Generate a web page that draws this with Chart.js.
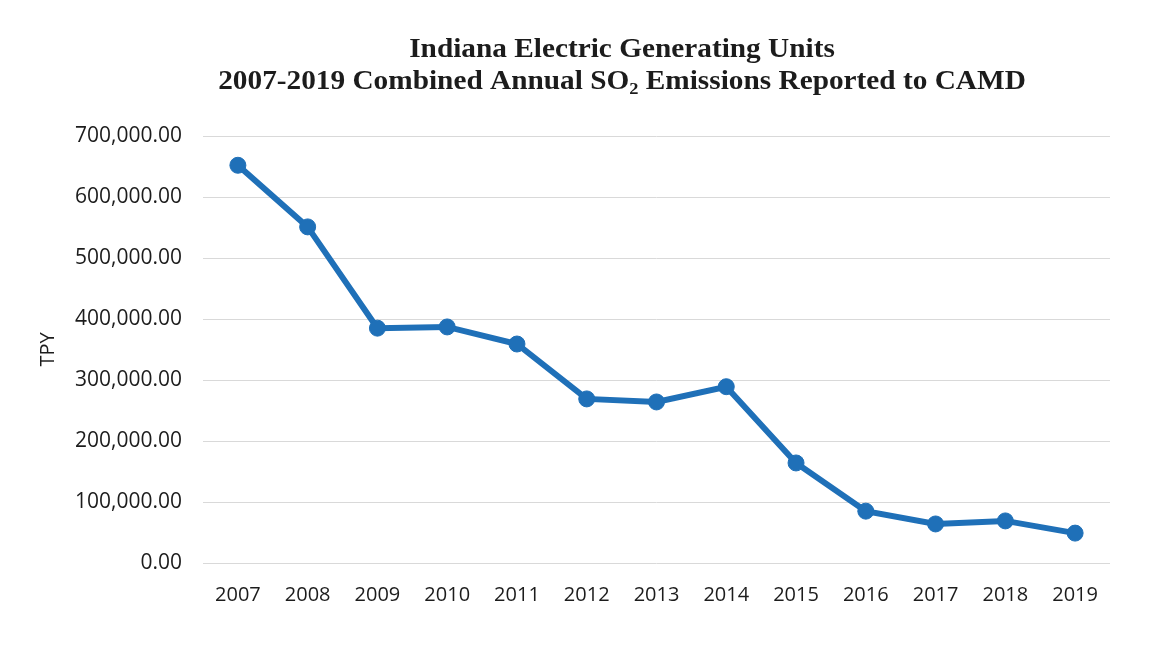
<!DOCTYPE html>
<html>
<head>
<meta charset="utf-8">
<script src="https://cdn.jsdelivr.net/npm/chart.js@4/dist/chart.umd.min.js"></script>
<style>
  body { margin: 0; background: #fff; }
  #chart { display: block; }
</style>
</head>
<body>
<canvas id="chart" width="1175" height="665"></canvas>
<script>
// Data
const years = ['2007', '2008', '2009', '2010', '2011', '2012', '2013', '2014', '2015', '2016', '2017', '2018', '2019'];
const so2Tpy = [652000, 551000, 385000, 387000, 359000, 269000, 264000, 289000, 164000, 85000, 64000, 69000, 49000];
const yMin = 0;
const yMax = 700000;
const yStep = 100000;

const titleLine1 = 'Indiana Electric Generating Units';
const titleLine2 = ['2007-2019 Combined Annual SO', '2', ' Emissions Reported to CAMD'];

const lineBlue = '#1f70b8';
const textColor = '#1c1c1c';

// Two line serif title with a subscript, drawn by hand
const titlePlugin = {
  id: 'twoLineTitle',
  afterDraw(chart) {
    const ctx = chart.ctx;
    const big = 'bold 27px "Liberation Serif", "DejaVu Serif", serif';
    const small = 'bold 17px "Liberation Serif", "DejaVu Serif", serif';
    ctx.save();
    ctx.fillStyle = textColor;
    ctx.textBaseline = 'alphabetic';
    ctx.translate(622, 0);
    ctx.scale(1.085, 1);

    ctx.font = big;
    ctx.textAlign = 'center';
    ctx.fillText(titleLine1, 0, 57);

    ctx.textAlign = 'left';
    const fonts = [big, small, big];
    const drops = [0, 5, 0];
    const widths = titleLine2.map((t, i) => {
      ctx.font = fonts[i];
      return ctx.measureText(t).width;
    });
    let x = -widths.reduce((a, b) => a + b, 0) / 2;
    titleLine2.forEach((t, i) => {
      ctx.font = fonts[i];
      ctx.fillText(t, x, 89 + drops[i]);
      x += widths[i];
    });
    ctx.restore();
  }
};

const ctx = document.getElementById('chart').getContext('2d');
new Chart(ctx, {
  type: 'line',
  data: {
    labels: years,
    datasets: [{
      label: 'SO2 (TPY)',
      data: so2Tpy,
      borderColor: lineBlue,
      backgroundColor: lineBlue,
      borderWidth: 6,
      pointRadius: 8,
      pointHoverRadius: 8,
      pointBorderWidth: 1,
      pointBackgroundColor: lineBlue,
      pointBorderColor: lineBlue,
      tension: 0,
      fill: false
    }]
  },
  options: {
    responsive: false,
    animation: false,
    layout: {
      padding: { top: 136, right: 65, bottom: 57, left: 0 }
    },
    plugins: {
      legend: { display: false },
      title: { display: false },
      tooltip: { enabled: false }
    },
    scales: {
      x: {
        offset: true,
        grid: { display: false, drawTicks: false },
        border: { display: false },
        ticks: {
          color: textColor,
          padding: 20,
          maxRotation: 0,
          font: { family: '"Open Sans", "Noto Sans", sans-serif', size: 20 }
        },
        afterFit(scale) { scale.height = 45; }
      },
      y: {
        min: yMin,
        max: yMax,
        grid: { color: '#d9d9d9', lineWidth: 1, drawTicks: false },
        border: { display: false },
        ticks: {
          stepSize: yStep,
          color: textColor,
          padding: 21,
          font: { family: '"Open Sans", "Noto Sans", sans-serif', size: 21 },
          callback: v => v.toLocaleString('en-US', { minimumFractionDigits: 2, maximumFractionDigits: 2 })
        },
        title: {
          display: true,
          text: 'TPY',
          color: textColor,
          padding: { top: 36, bottom: 0 },
          font: { family: '"Open Sans", "Noto Sans", sans-serif', size: 20 }
        },
        afterFit(scale) { scale.width = 203; }
      }
    }
  },
  plugins: [titlePlugin]
});
</script>
</body>
</html>
